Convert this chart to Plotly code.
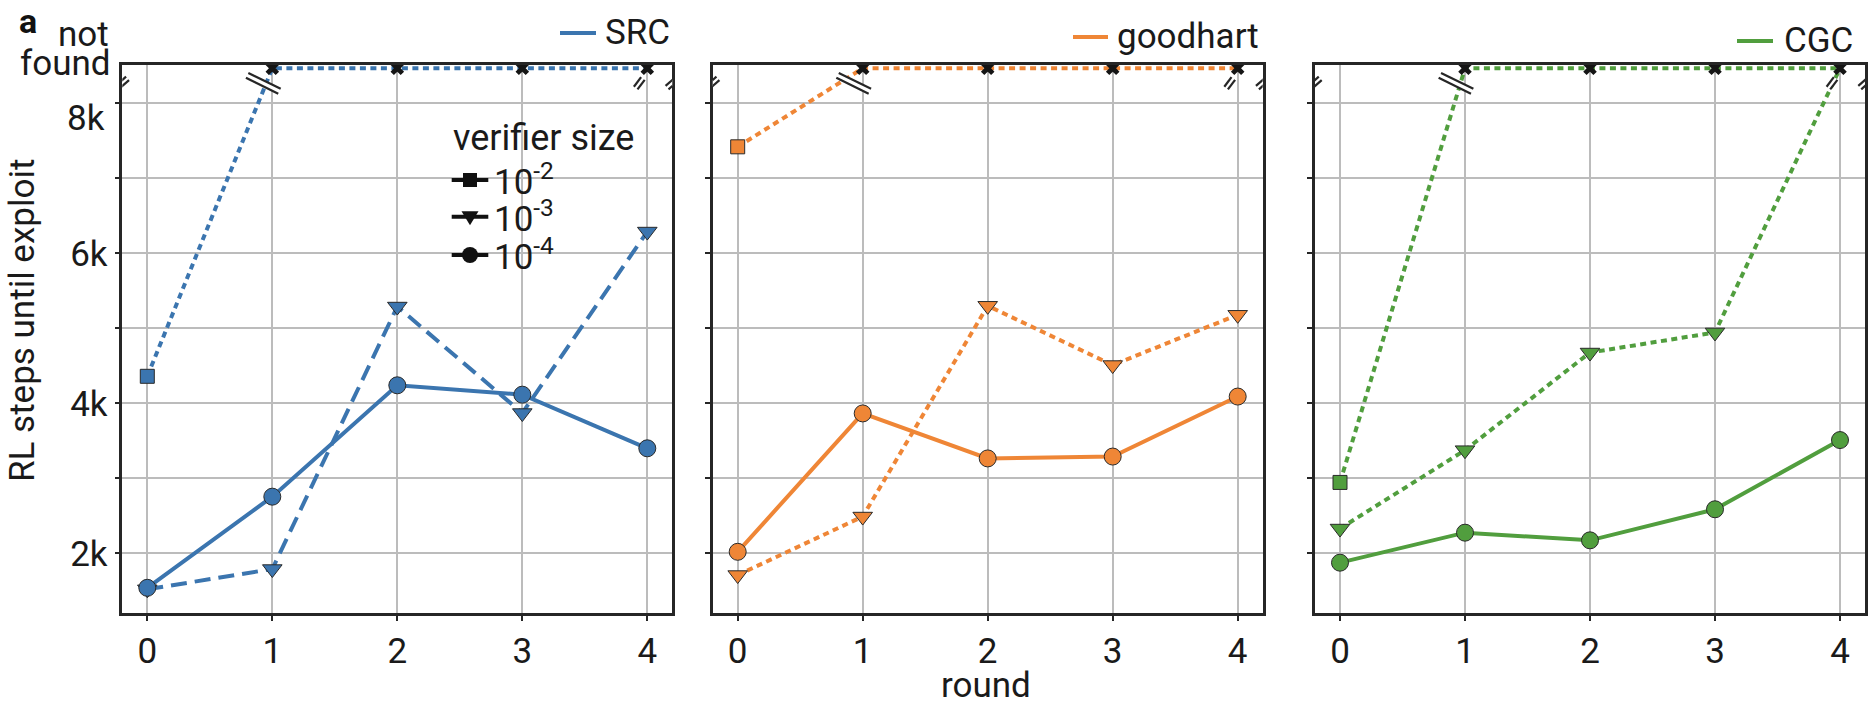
import plotly.graph_objects as go

W, H = 1870, 705

# ---------------- data ----------------
rounds = [0, 1, 2, 3, 4]
methods = ["SRC", "goodhart", "CGC"]
colors = ["#3b75af", "#ef8636", "#519e3e"]
size_labels = ["10<sup>-2</sup>", "10<sup>-3</sup>", "10<sup>-4</sup>"]

# None = exploit "not found"
src_1e2 = [4360, None, None, None, None]
src_1e3 = [1520, 1790, 5290, 3870, 6290]
src_1e4 = [1540, 2755, 4240, 4115, 3400]
goodhart_1e2 = [7420, None, None, None, None]
goodhart_1e3 = [1710, 2490, 5300, 4510, 5180]
goodhart_1e4 = [2020, 3865, 3265, 3290, 4090]
cgc_1e2 = [2945, None, None, None, None]
cgc_1e3 = [2330, 3375, 4677, 4945, None]
cgc_1e4 = [1875, 2275, 2173, 2587, 3510]

y_tickvals = [2000, 3000, 4000, 5000, 6000, 7000, 8000]
y_ticktext = ["2k", "", "4k", "", "6k", "", ""]   # "8k" drawn separately (sits lower in the reference)
x_ticktext = ["0", "1", "2", "3", "4"]

Y_MIN, Y_MAX = 1200, 8511
NOT_FOUND = 8467

panel_series = [
    [src_1e2, src_1e3, src_1e4],
    [goodhart_1e2, goodhart_1e3, goodhart_1e4],
    [cgc_1e2, cgc_1e3, cgc_1e4],
]

# ---------------- styles ----------------
FONT = "Roboto"
FS = 35
TXT = "#1a1a1a"
SPINE = "#262626"
GRID = "#bcbcbc"
symbols = ["square", "triangle-down", "circle"]
msizes = [14, 17, 17]
DOT = "6px,4.5px"
dashes = [
    [DOT, "16px,8px", "solid"],
    [DOT, DOT, "solid"],
    [DOT, DOT, "solid"],
]

x_domains = [(122.3, 672.3), (712.7, 1262.7), (1315.0, 1865.0)]
y_top_px, y_bot_px = 65.0, 613.3


def px(x):
    return x / W


def py(y):
    return 1 - y / H


fig = go.Figure()

for i, series in enumerate(panel_series):
    xa = "x" if i == 0 else f"x{i + 1}"
    ya = "y" if i == 0 else f"y{i + 1}"
    col = colors[i]
    for j, vals in enumerate(series):
        yplot = [v if v is not None else NOT_FOUND for v in vals]
        fig.add_trace(go.Scatter(
            x=rounds, y=yplot, xaxis=xa, yaxis=ya, mode="lines",
            line=dict(color=col, width=4, dash=dashes[i][j]),
            hoverinfo="skip", showlegend=False,
        ))
    for j in [1, 2, 0]:
        vals = series[j]
        xs = [r for r, v in zip(rounds, vals) if v is not None]
        ys = [v for v in vals if v is not None]
        fig.add_trace(go.Scatter(
            x=xs, y=ys, xaxis=xa, yaxis=ya, mode="markers",
            marker=dict(symbol=symbols[j], size=msizes[j], color=col,
                        line=dict(color="#2a2a2a", width=1)),
            showlegend=False,
        ))
    nf_x = sorted({r for vals in series for r, v in zip(rounds, vals) if v is None})
    fig.add_trace(go.Scatter(
        x=nf_x, y=[NOT_FOUND] * len(nf_x), xaxis=xa, yaxis=ya, mode="markers",
        marker=dict(symbol="x", size=12, color="#151515", line=dict(width=0)),
        showlegend=False,
    ))

# ---------------- axes ----------------
layout = dict(
    width=W, height=H, margin=dict(l=0, r=0, t=0, b=0),
    paper_bgcolor="white", plot_bgcolor="white", showlegend=False,
    font=dict(family=FONT, size=FS, color=TXT),
)
for i in range(3):
    xk = "xaxis" if i == 0 else f"xaxis{i + 1}"
    yk = "yaxis" if i == 0 else f"yaxis{i + 1}"
    d0, d1 = x_domains[i]
    layout[xk] = dict(
        domain=[px(d0), px(d1)], range=[-0.2, 4.2], anchor="y" if i == 0 else f"y{i + 1}",
        tickvals=rounds, ticktext=x_ticktext, tickmode="array",
        showline=True, linecolor=SPINE, linewidth=2.5, mirror=True,
        ticks="outside", ticklen=5, tickwidth=2, tickcolor=SPINE,
        showgrid=True, gridcolor=GRID, gridwidth=1.5, zeroline=False,
        tickfont=dict(family=FONT, size=FS, color=TXT), fixedrange=True,
    )
    layout[yk] = dict(
        domain=[py(y_bot_px), py(y_top_px)], range=[Y_MIN, Y_MAX],
        anchor="x" if i == 0 else f"x{i + 1}",
        tickvals=y_tickvals, ticktext=y_ticktext, tickmode="array",
        showticklabels=(i == 0),
        showline=True, linecolor=SPINE, linewidth=2.5, mirror=True,
        ticks="outside", ticklen=5, tickwidth=2, tickcolor=SPINE,
        showgrid=True, gridcolor=GRID, gridwidth=1.5, zeroline=False,
        tickfont=dict(family=FONT, size=FS, color=TXT), fixedrange=True,
    )
fig.update_layout(**layout)

# ---------------- break marks ----------------
shapes = []


def break_mark(xref, yref, xa, ya, cx, cy, ddx, ddy, half, sep, lw=2.2):
    n = (ddx ** 2 + ddy ** 2) ** 0.5
    ux, uy = ddx / n, ddy / n
    nx, ny = -uy, ux
    segs = []
    for k in (-1, 1):
        ox, oy = cx + k * sep / 2 * nx, cy + k * sep / 2 * ny
        segs.append(((ox - half * ux, oy - half * uy), (ox + half * ux, oy + half * uy)))
    common = dict(xref=xref, yref=yref, xsizemode="pixel", ysizemode="pixel",
                  xanchor=xa, yanchor=ya, layer="above")

    def p(pt):
        return f"{pt[0]:.2f},{-pt[1]:.2f}"

    poly = [segs[0][0], segs[0][1], segs[1][1], segs[1][0]]
    shapes.append(dict(type="path", path="M" + " L".join(p(q) for q in poly) + " Z",
                       fillcolor="white", line=dict(width=0), **common))
    for a, b in segs:
        shapes.append(dict(type="path", path=f"M{p(a)} L{p(b)}",
                           line=dict(color=SPINE, width=lw), **common))


for i, series in enumerate(panel_series):
    xref = "x" if i == 0 else f"x{i + 1}"
    yref = "y" if i == 0 else f"y{i + 1}"
    break_mark(xref, yref, -0.2, Y_MAX, 0, 18, 0.75, -0.66, 7, 4.5)
    break_mark(xref, yref, 4.2, Y_MAX, 0, 18, 0.75, -0.66, 7, 4.5)
    trans = sorted({rounds[k] for vals in series for k in range(1, len(vals))
                    if vals[k] is None and vals[k - 1] is not None and k < len(vals) - 1})
    for r in trans:
        break_mark(xref, yref, r, NOT_FOUND, -9, 15, 0.9, 0.44, 18, 5.5)
    break_mark(xref, yref, rounds[-1], NOT_FOUND, -8, 15, 0.6, -0.8, 6, 4.5)

# ---------------- legends (drawn) ----------------
legend_pos = [(560, 596, 603, 33), (1073, 1108, 1115, 37), (1737, 1773, 1782, 41)]
annotations = []
for i, (l0, l1, tx, yy) in enumerate(legend_pos):
    shapes.append(dict(type="line", xref="paper", yref="paper",
                       x0=px(l0), x1=px(l1), y0=py(yy), y1=py(yy),
                       line=dict(color=colors[i], width=4)))
    annotations.append(dict(text=methods[i], x=px(tx), y=py(yy), xref="paper", yref="paper",
                            xanchor="left", yanchor="middle", showarrow=False,
                            font=dict(family=FONT, size=FS, color=TXT)))

vl_x0, vl_x1, vl_tx = 451.7, 488.3, 491.7
vl_title_y = 138
vl_rows = [180, 216.7, 255]
annotations.append(dict(text="verifier size", x=px(vl_x0 - 1), y=py(vl_title_y), xref="paper",
                        yref="paper", xanchor="left", yanchor="middle", showarrow=False,
                        font=dict(family=FONT, size=36, color=TXT)))
mx = (vl_x0 + vl_x1) / 2
for j, yy in enumerate(vl_rows):
    shapes.append(dict(type="line", xref="paper", yref="paper", x0=px(vl_x0), x1=px(vl_x1),
                       y0=py(yy), y1=py(yy), line=dict(color="#111111", width=4)))
    if symbols[j] == "square":
        s = 7
        shapes.append(dict(type="rect", xref="paper", yref="paper", x0=px(mx - s), x1=px(mx + s),
                           y0=py(yy - s), y1=py(yy + s), fillcolor="#111111",
                           line=dict(width=0)))
    elif symbols[j] == "triangle-down":
        shapes.append(dict(type="path", xref="paper", yref="paper",
                           path=f"M{px(mx - 8.5):.5f},{py(yy - 5.5):.5f} L{px(mx + 8.5):.5f},{py(yy - 5.5):.5f} "
                                f"L{px(mx):.5f},{py(yy + 8.5):.5f} Z",
                           fillcolor="#111111", line=dict(width=0)))
    else:
        r = 8
        shapes.append(dict(type="circle", xref="paper", yref="paper", x0=px(mx - r), x1=px(mx + r),
                           y0=py(yy - r), y1=py(yy + r), fillcolor="#111111",
                           line=dict(width=0)))
    annotations.append(dict(text=size_labels[j], x=px(vl_tx), y=py(yy), xref="paper",
                            yref="paper", xanchor="left", yanchor="middle", showarrow=False,
                            font=dict(family=FONT, size=FS, color=TXT)))

extra = [
    dict(text="<b>a</b>", x=px(18), y=1, xanchor="left", yanchor="top", borderpad=0,
         font=dict(family=FONT, size=34, color="#111111")),
    dict(text="not", x=px(111), y=py(35), xanchor="right", yanchor="middle",
         font=dict(family=FONT, size=FS, color=TXT)),
    dict(text="found", x=px(113), y=py(63), xanchor="right", yanchor="middle",
         font=dict(family=FONT, size=FS, color=TXT)),
    dict(text="8k", x=px(107), y=py(118), xanchor="right", yanchor="middle",
         font=dict(family=FONT, size=FS, color=TXT)),
    dict(text="RL steps until exploit", x=px(22), y=py(321), xanchor="center",
         yanchor="middle", textangle=-90, font=dict(family=FONT, size=FS, color=TXT)),
    dict(text="round", x=px(986), y=py(685), xanchor="center", yanchor="middle",
         font=dict(family=FONT, size=FS, color=TXT)),
]
for a in extra:
    a.update(xref="paper", yref="paper", showarrow=False)
annotations += extra

fig.update_layout(shapes=shapes, annotations=annotations)
fig.write_html("out.html")
